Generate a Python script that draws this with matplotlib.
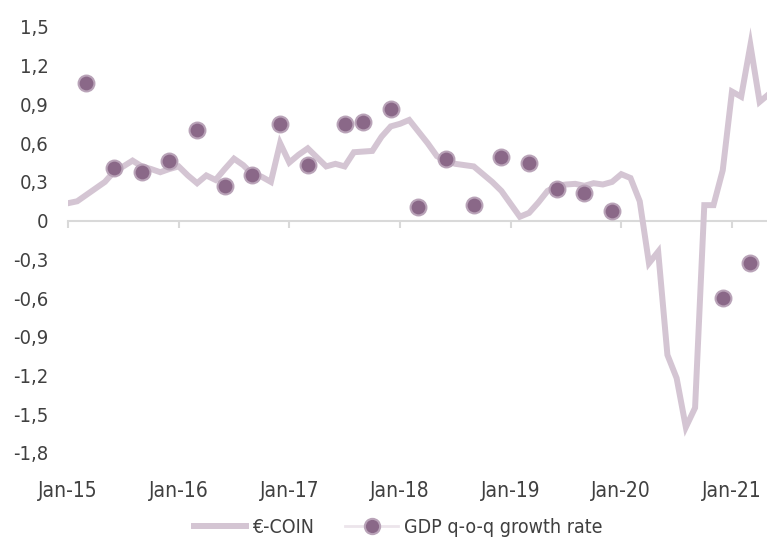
import matplotlib
matplotlib.use("Agg")
import matplotlib.pyplot as plt
from matplotlib.lines import Line2D
import numpy as np
import pandas as pd

plt.rcParams['font.family'] = ['DejaVu Sans']
plt.rcParams['font.stretch'] = 'condensed'

# monthly €-COIN, Jan-15 .. May-21
coin = [0.135, 0.15, 0.20, 0.25, 0.30, 0.38, 0.42, 0.465, 0.42, 0.40, 0.375, 0.40,
        0.42, 0.35, 0.29, 0.35, 0.315, 0.40, 0.48, 0.43, 0.36, 0.34, 0.30, 0.60,
        0.45, 0.51, 0.56, 0.49, 0.42, 0.44, 0.42, 0.53, 0.535, 0.54, 0.65, 0.73,
        0.75, 0.78, 0.69, 0.60, 0.50, 0.46, 0.44, 0.43, 0.42, 0.36, 0.30, 0.23,
        0.13, 0.03, 0.06, 0.14, 0.23, 0.27, 0.28, 0.285, 0.27, 0.29, 0.28, 0.30,
        0.36, 0.33, 0.15, -0.33, -0.24, -1.04, -1.22, -1.60, -1.45, 0.12, 0.12, 0.39,
        1.00, 0.96, 1.36, 0.92, 0.98]
months = pd.date_range('2015-01-01', periods=len(coin), freq='MS')

# quarterly GDP growth (visible points only)
gdp_dates = ['2015-03', '2015-06', '2015-09', '2015-12', '2016-03', '2016-06',
             '2016-09', '2016-12', '2017-03', '2017-07', '2017-09', '2017-12',
             '2018-03', '2018-06', '2018-09', '2018-12', '2019-03', '2019-06',
             '2019-09', '2019-12', '2020-12', '2021-03']
gdp = [1.07, 0.41, 0.38, 0.465, 0.70, 0.27, 0.354, 0.75, 0.43, 0.747, 0.763, 0.866,
       0.104, 0.478, 0.122, 0.496, 0.445, 0.246, 0.212, 0.075, -0.597, -0.33]

yticks = [1.5, 1.2, 0.9, 0.6, 0.3, 0, -0.3, -0.6, -0.9, -1.2, -1.5, -1.8]
year_labels = ['Jan-15', 'Jan-16', 'Jan-17', 'Jan-18', 'Jan-19', 'Jan-20', 'Jan-21']

line_col = '#d4c5d3'
dot_col = '#8a6888'
dot_edge = '#b9a3b8'
txt_col = '#404040'

x_coin = np.arange(len(coin))
month_pos = {m.strftime('%Y-%m'): i for i, m in enumerate(months)}
x_gdp = [month_pos[d] for d in gdp_dates]

fig = plt.figure(figsize=(7.67, 5.45), dpi=100)
ax = fig.add_axes([68 / 767, 92 / 545, 1 - 68 / 767, (453 - 27) / 545])

ax.plot(x_coin, coin, color=line_col, linewidth=4.3, solid_joinstyle='miter', zorder=2)
ax.scatter(x_gdp, gdp, s=130, color=dot_col, edgecolors=dot_edge, linewidths=1.5, zorder=3)

ax.set_ylim(-1.8, 1.5)
ax.set_xlim(0, 75.8)
ax.set_yticks(yticks)
ax.set_yticklabels([('%g' % v).replace('.', ',') for v in yticks])
ax.tick_params(axis='y', length=0, pad=14, labelsize=14.5, labelcolor=txt_col)

for s in ['top', 'right', 'left']:
    ax.spines[s].set_visible(False)
ax.spines['bottom'].set_position(('data', 0))
ax.spines['bottom'].set_color('#d9d9d9')
ax.spines['bottom'].set_linewidth(1.5)
ax.spines['bottom'].set_zorder(1)

year_pos = np.arange(len(year_labels)) * 12
ax.set_xticks(year_pos)
ax.set_xticklabels([])
ax.tick_params(axis='x', length=5, width=1.5, color='#d9d9d9', direction='out')

sec = ax.secondary_xaxis('bottom')
sec.set_xticks(year_pos)
sec.set_xticklabels(year_labels)
sec.tick_params(length=0, pad=20, labelsize=15, labelcolor=txt_col)
sec.spines['bottom'].set_visible(False)

handles = [
    Line2D([], [], color=line_col, linewidth=4.3),
    Line2D([], [], color='#ece5eb', linewidth=2, marker='o', markersize=11,
           markerfacecolor=dot_col, markeredgecolor=dot_edge, markeredgewidth=1.5),
]
fig.legend(handles, ['€-COIN', 'GDP q-o-q growth rate'], loc='center',
           bbox_to_anchor=(0.519, 0.033), ncol=2, frameon=False, fontsize=14,
           handlelength=2.7, handletextpad=0.3, columnspacing=1.6, labelcolor=txt_col)

fig.savefig('out.png', dpi=100)
